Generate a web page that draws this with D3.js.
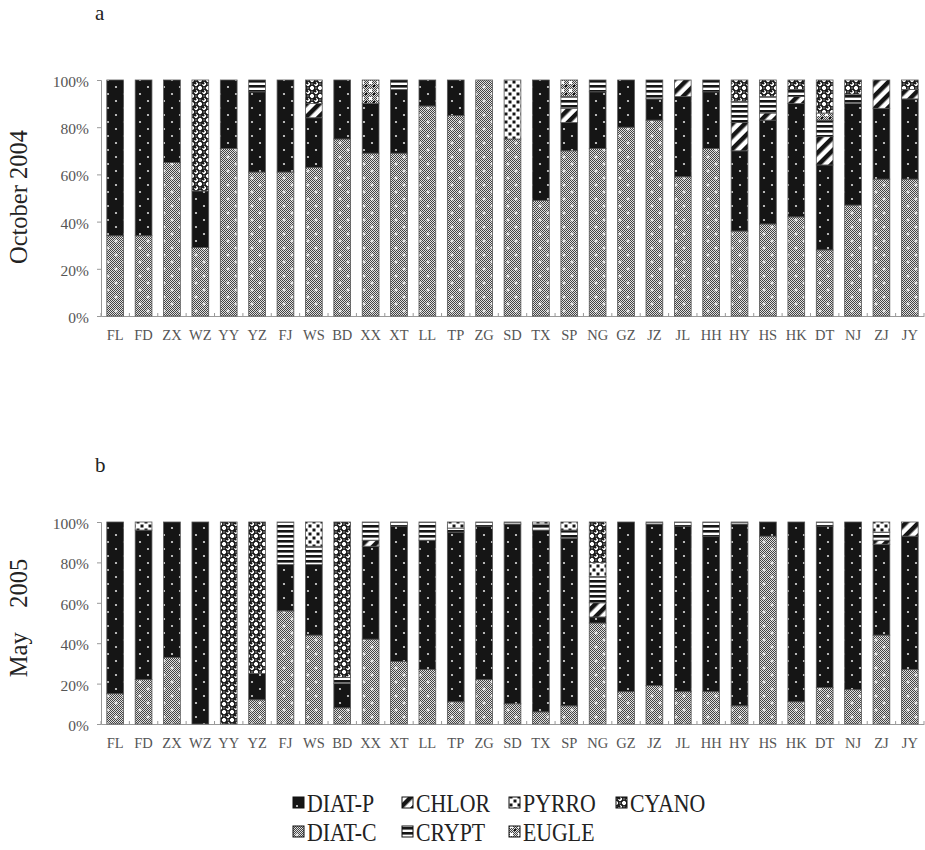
<!DOCTYPE html>
<html>
<head>
<meta charset="utf-8">
<script src="https://cdn.jsdelivr.net/npm/d3@7"></script>
<style>
  html, body { margin: 0; padding: 0; background: #fff; }
  svg { display: block; }
</style>
</head>
<body>
<svg id="chart" width="925" height="850"></svg>
<script>
// Sampling sites along the x axis
const categories = ["FL","FD","ZX","WZ","YY","YZ","FJ","WS","BD","XX","XT","LL","TP","ZG","SD",
                    "TX","SP","NG","GZ","JZ","JL","HH","HY","HS","HK","DT","NJ","ZJ","JY"];

// Phytoplankton groups, stacked from the bottom up
const groups = ["DIAT-C","DIAT-P","CHLOR","CRYPT","PYRRO","EUGLE","CYANO"];

// Legend order (row by row)
const legendRow1 = ["DIAT-P","CHLOR","PYRRO","CYANO"];
const legendRow2 = ["DIAT-C","CRYPT","EUGLE"];

const yTicks = [0, 20, 40, 60, 80, 100];

// October 2004 – relative abundance (%) per site
const octDiatC = [34,34,65,29,71,61,61,63,75,69,69,89,85,100,75,49,70,71,80,83,59,71,36,39,42,28,47,58,58];
const octDiatP = [66,66,35,24,29,34,39,21,25,21,27,11,15,0,0,51,12,24,20,9,34,24,34,44,48,36,43,30,34];
const octChlor = [0,0,0,0,0,0,0,6,0,0,0,0,0,0,0,0,6,0,0,0,7,0,12,3,3,12,0,12,4];
const octCrypt = [0,0,0,0,0,5,0,0,0,0,4,0,0,0,0,0,5,5,0,8,0,5,9,7,3,7,4,0,0];
const octPyrro = [0,0,0,0,0,0,0,0,0,0,0,0,0,0,25,0,0,0,0,0,0,0,0,0,0,0,0,0,0];
const octEugle = [0,0,0,0,0,0,0,0,0,10,0,0,0,0,0,0,7,0,0,0,0,0,0,0,0,3,0,0,0];
const octCyano = [0,0,0,47,0,0,0,10,0,0,0,0,0,0,0,0,0,0,0,0,0,0,9,7,4,14,6,0,4];

// May 2005 – relative abundance (%) per site
const mayDiatC = [15,22,33,0,0,12,56,44,8,42,31,27,11,22,10,6,9,50,16,19,16,16,9,93,11,18,17,44,27];
const mayDiatP = [85,74,67,100,0,13,23,35,12,46,67,64,84,76,89,90,83,3,84,80,82,77,90,7,89,80,83,45,66];
const mayChlor = [0,0,0,0,0,0,0,0,0,3,0,0,0,0,0,0,0,7,0,0,0,0,0,0,0,0,0,2,7];
const mayCrypt = [0,0,0,0,0,0,21,9,3,9,2,9,2,2,1,3,4,13,0,1,2,7,1,0,0,2,0,4,0];
const mayPyrro = [0,4,0,0,0,0,0,12,0,0,0,0,3,0,0,1,4,7,0,0,0,0,0,0,0,0,0,5,0];
const mayEugle = [0,0,0,0,0,0,0,0,0,0,0,0,0,0,0,0,0,0,0,0,0,0,0,0,0,0,0,0,0];
const mayCyano = [0,0,0,0,100,75,0,0,77,0,0,0,0,0,0,0,0,20,0,0,0,0,0,0,0,0,0,0,0];

function buildRows(series) {
  return categories.map((c, i) => {
    const row = { site: c };
    groups.forEach((g, k) => { row[g] = series[k][i]; });
    return row;
  });
}

const octRows = buildRows([octDiatC, octDiatP, octChlor, octCrypt, octPyrro, octEugle, octCyano]);
const mayRows = buildRows([mayDiatC, mayDiatP, mayChlor, mayCrypt, mayPyrro, mayEugle, mayCyano]);

const svg = d3.select("#chart");
const defs = svg.append("defs");
const serif = "'Liberation Serif', 'Times New Roman', serif";

// ---- fill patterns ----
// fine 1px checker that reads as mid grey
const chk = defs.append("pattern").attr("id", "checker")
  .attr("patternUnits", "userSpaceOnUse").attr("width", 2).attr("height", 2);
chk.append("rect").attr("width", 2).attr("height", 2).attr("fill", "#e0e0e0");
chk.append("rect").attr("width", 1).attr("height", 1).attr("fill", "#444");
chk.append("rect").attr("x", 1).attr("y", 1).attr("width", 1).attr("height", 1).attr("fill", "#444");

// DIAT-C: grey checker with white crosses
const pC = defs.append("pattern").attr("id", "p-DIAT-C")
  .attr("patternUnits", "userSpaceOnUse").attr("width", 16).attr("height", 14);
pC.append("rect").attr("width", 16).attr("height", 14).attr("fill", "url(#checker)");
[[4, 3], [12, 10]].forEach(([x, y]) => {
  pC.append("rect").attr("x", x - 1.5).attr("y", y - 0.5).attr("width", 3).attr("height", 1).attr("fill", "#fff");
  pC.append("rect").attr("x", x - 0.5).attr("y", y - 1.5).attr("width", 1).attr("height", 3).attr("fill", "#fff");
});

// DIAT-P: black with sparse white dots
const pP = defs.append("pattern").attr("id", "p-DIAT-P")
  .attr("patternUnits", "userSpaceOnUse").attr("width", 16).attr("height", 14);
pP.append("rect").attr("width", 16).attr("height", 14).attr("fill", "#151515");
[[4, 3], [12, 10]].forEach(([x, y]) => {
  pP.append("circle").attr("cx", x).attr("cy", y).attr("r", 1.1).attr("fill", "#ddd");
});

// CHLOR: bold diagonal stripes
const pCh = defs.append("pattern").attr("id", "p-CHLOR")
  .attr("patternUnits", "userSpaceOnUse").attr("width", 9).attr("height", 9)
  .attr("patternTransform", "rotate(45)");
pCh.append("rect").attr("width", 9).attr("height", 9).attr("fill", "#fff");
pCh.append("rect").attr("width", 4.5).attr("height", 9).attr("fill", "#151515");

// CRYPT: horizontal stripes
const pCr = defs.append("pattern").attr("id", "p-CRYPT")
  .attr("patternUnits", "userSpaceOnUse").attr("width", 8).attr("height", 5);
pCr.append("rect").attr("width", 8).attr("height", 5).attr("fill", "#fff");
pCr.append("rect").attr("width", 8).attr("height", 2.6).attr("fill", "#151515");

// PYRRO: white with black blocks
const pPy = defs.append("pattern").attr("id", "p-PYRRO")
  .attr("patternUnits", "userSpaceOnUse").attr("width", 8).attr("height", 8);
pPy.append("rect").attr("width", 8).attr("height", 8).attr("fill", "#fff");
pPy.append("rect").attr("x", 0.5).attr("y", 0.5).attr("width", 3).attr("height", 3).attr("fill", "#151515");
pPy.append("rect").attr("x", 4.5).attr("y", 4.5).attr("width", 3).attr("height", 3).attr("fill", "#151515");

// EUGLE: grey checker with dark blocks
const pEu = defs.append("pattern").attr("id", "p-EUGLE")
  .attr("patternUnits", "userSpaceOnUse").attr("width", 8).attr("height", 8);
pEu.append("rect").attr("width", 8).attr("height", 8).attr("fill", "url(#checker)");
pEu.append("rect").attr("x", 1).attr("y", 1).attr("width", 3).attr("height", 3).attr("fill", "#fff");
pEu.append("rect").attr("x", 5).attr("y", 5).attr("width", 2).attr("height", 2).attr("fill", "#151515");

// CYANO: chain of interlocking rings
const pCy = defs.append("pattern").attr("id", "p-CYANO")
  .attr("patternUnits", "userSpaceOnUse").attr("width", 8).attr("height", 8);
pCy.append("rect").attr("width", 8).attr("height", 8).attr("fill", "#fff");
[[4, 4], [0, 0], [8, 0], [0, 8], [8, 8]].forEach(([x, y]) => {
  pCy.append("circle").attr("cx", x).attr("cy", y).attr("r", 2.9)
    .attr("fill", "none").attr("stroke", "#151515").attr("stroke-width", 1.4);
});
pCy.append("circle").attr("cx", 3.2).attr("cy", 3.2).attr("r", 1.2).attr("fill", "#151515");

// ---- panels ----
const x = d3.scaleBand().domain(categories).range([101, 924]).paddingInner(0.41).paddingOuter(0.205);

const stack = d3.stack().keys(groups);

function drawPanel(rows, top, bottom, letter, title, letterY, titleY) {
  const y = d3.scaleLinear().domain([0, 100]).range([bottom, top]);
  const g = svg.append("g");

  // y axis
  const yAxis = d3.axisLeft(y).tickValues(yTicks).tickFormat(d => d + "%").tickSize(4).tickPadding(8);
  const ya = g.append("g").attr("transform", "translate(101,0)").call(yAxis);
  ya.select(".domain").attr("stroke", "#999");
  ya.selectAll(".tick line").attr("stroke", "#999");
  ya.selectAll(".tick text").attr("font-family", serif)
    .attr("font-size", 15.5).attr("fill", "#555").attr("dy", "0.42em");

  // x axis
  const xa = g.append("g").attr("transform", `translate(0,${bottom})`)
    .call(d3.axisBottom(x).tickSize(0).tickPadding(14));
  xa.select(".domain").attr("stroke", "#999");
  xa.selectAll(".tick text").attr("font-family", serif)
    .attr("font-size", 14.5).attr("fill", "#555").attr("dy", "0.71em");
  // separators between categories
  const step = x.step();
  g.append("g").selectAll("line")
    .data(d3.range(categories.length + 1))
    .join("line")
    .attr("x1", i => 101 + i * step).attr("x2", i => 101 + i * step)
    .attr("y1", bottom - 3).attr("y2", bottom)
    .attr("stroke", "#999");

  // stacked bars
  const series = stack(rows);
  g.append("g").selectAll("g")
    .data(series)
    .join("g")
    .attr("fill", s => `url(#p-${s.key})`)
    .selectAll("rect")
    .data(s => s.filter(d => d[1] - d[0] > 0))
    .join("rect")
    .attr("x", d => x(d.data.site))
    .attr("width", x.bandwidth())
    .attr("y", d => y(d[1]))
    .attr("height", d => y(d[0]) - y(d[1]))
    .attr("stroke", "#555")
    .attr("stroke-width", 0.8);

  // panel letter
  svg.append("text").attr("x", 95).attr("y", letterY)
    .attr("font-family", serif).attr("font-size", 21).attr("fill", "#222")
    .text(letter);

  // rotated panel title
  svg.append("text")
    .attr("transform", `translate(27,${titleY}) rotate(-90)`)
    .attr("text-anchor", "middle")
    .attr("font-family", serif).attr("font-size", 24.5).attr("fill", "#222")
    .style("white-space", "pre")
    .text(title);
}

drawPanel(octRows, 80, 316, "a", "October 2004", 20, 197);
drawPanel(mayRows, 522, 724, "b", "May    2005", 472, 618);

// ---- legend ----
const legendItems = [
  ...legendRow1.map((k, i) => ({ key: k, col: i, row: 0 })),
  ...legendRow2.map((k, i) => ({ key: k, col: i, row: 1 }))
];
const colX = [293, 402, 509, 616];
const rowY = [803, 832];
const lg = svg.append("g");
const li = lg.selectAll("g").data(legendItems).join("g")
  .attr("transform", d => `translate(${colX[d.col]},${rowY[d.row]})`);
li.append("rect").attr("x", 0).attr("y", -6).attr("width", 11).attr("height", 11)
  .attr("fill", d => `url(#p-${d.key})`).attr("stroke", "#111").attr("stroke-width", 1);
// narrow, tall lettering for the legend labels
li.append("g").attr("transform", "translate(14,0) scale(0.84,1)")
  .append("text").attr("x", 0).attr("y", 0).attr("dy", "0.36em")
  .attr("font-family", serif).attr("font-size", 26).attr("fill", "#222")
  .text(d => d.key);
</script>
</body>
</html>
